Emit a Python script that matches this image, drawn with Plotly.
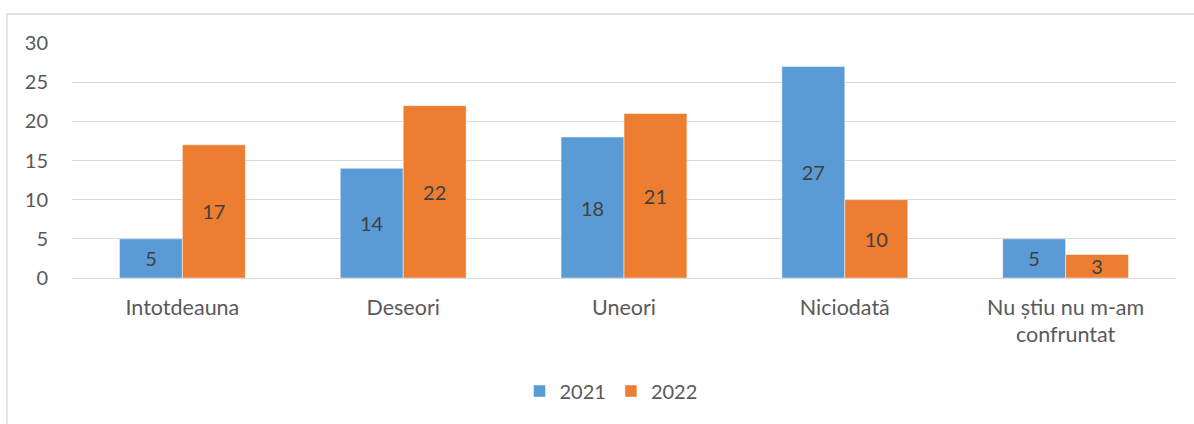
import plotly.graph_objects as go

categories = ["Intotdeauna", "Deseori", "Uneori", "Niciodată", "Nu știu nu m-am<br>confruntat"]
series_names = ["2021", "2022"]
values_2021 = [5, 14, 18, 27, 5]
values_2022 = [17, 22, 21, 10, 3]
y_ticks = [0, 5, 10, 15, 20, 25, 30]

colors = {"2021": "#5B9BD5", "2022": "#ED7D31"}
FONT = "Lato"
TXT = "#595959"

W, H = 1194, 424
L, R, T, B = 72, 1194 - 1176, 43, 424 - 278
pw, ph = W - L - R, H - T - B

fig = go.Figure()
for name, vals in zip(series_names, [values_2021, values_2022]):
    fig.add_trace(go.Bar(
        x=categories, y=vals, name=name,
        marker=dict(color=colors[name], line=dict(color="rgba(255,255,255,0.6)", width=0.8)),
        text=[str(v) for v in vals], textposition="inside", insidetextanchor="middle",
        textangle=0,
        textfont=dict(family=FONT, size=20, color="#404040"),
        constraintext="none", cliponaxis=False,
    ))

fig.update_layout(
    width=W, height=H,
    margin=dict(l=L, r=R, t=T, b=B, autoexpand=False),
    barmode="group", bargap=0.43, bargroupgap=0,
    plot_bgcolor="white", paper_bgcolor="white",
    font=dict(family=FONT, size=20, color=TXT),
    showlegend=True,
    legend=dict(orientation="h", x=(611 - L) / pw, xanchor="center",
                y=(278 - 391) / ph, yanchor="middle",
                font=dict(family=FONT, size=20, color=TXT),
                itemwidth=30, traceorder="normal"),
    xaxis=dict(showgrid=False, showline=False, ticks="", ticklabelstandoff=14,
               tickfont=dict(family=FONT, size=21.5, color=TXT)),
    yaxis=dict(range=[0, 30], tickvals=y_ticks, showgrid=True, gridcolor="#D9D9D9",
               gridwidth=1.3, zeroline=True, zerolinecolor="#D9D9D9", zerolinewidth=1.3,
               showline=False, ticks="", ticklabelstandoff=23,
               tickfont=dict(family=FONT, size=20, color=TXT)),
    shapes=[dict(type="rect", xref="paper", yref="paper",
                 x0=(7 - L) / pw, x1=(1205 - L) / pw,
                 y0=(278 - 440) / ph, y1=1 + (T - 14) / ph,
                 line=dict(color="#D9D9D9", width=1.3), fillcolor="rgba(0,0,0,0)",
                 layer="below")],
)

fig.write_html("out.html", config={"displayModeBar": False},
               post_script="document.body.style.margin='0px';")
